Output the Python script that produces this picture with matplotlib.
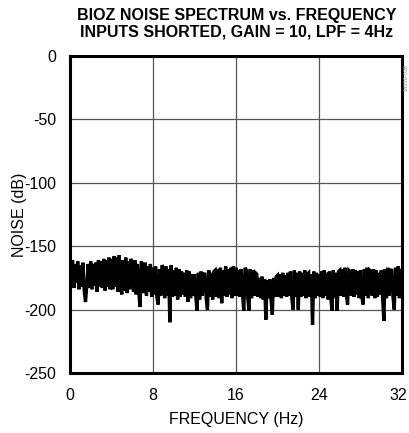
import numpy as np
import matplotlib.pyplot as plt
import matplotlib.transforms as mtransforms

# ---------------- DATA ----------------
FREQ_STEP = 0.125  # Hz between spectrum bins
noise_db = [
    -163, -180, -161, -183, -164, -179, -162, -184,   # 0 Hz
    -165, -182, -163, -185, -194, -181, -164, -183,   # 1
    -162, -184, -164, -181, -163, -186, -161, -182,   # 2
    -162, -183, -160, -185, -161, -182, -159, -184,   # 3
    -160, -184, -158, -182, -159, -186, -157, -183,   # 4
    -188, -161, -185, -159, -187, -162, -184, -160,   # 5
    -163, -186, -161, -188, -164, -185, -198, -162,   # 6
    -165, -187, -163, -189, -166, -186, -164, -190,   # 7
    -167, -188, -166, -190, -196, -168, -189, -165,   # 8
    -167, -191, -166, -189, -168, -210, -165, -190,   # 9
    -169, -189, -167, -192, -168, -190, -170, -188,   # 10
    -171, -190, -169, -194, -170, -191, -172, -189,   # 11
    -172, -190, -201, -171, -192, -170, -189, -173,   # 12
    -171, -191, -200, -169, -190, -171, -192, -170,   # 13
    -169, -190, -168, -191, -167, -195, -169, -189,   # 14
    -166, -190, -168, -188, -167, -191, -166, -189,   # 15
    -167, -189, -169, -190, -168, -188, -201, -167,   # 16
    -169, -190, -201, -168, -191, -169, -189, -171,   # 17
    -172, -190, -175, -191, -174, -192, -176, -208,   # 18
    -177, -191, -176, -192, -204, -175, -190, -174,   # 19
    -173, -190, -172, -191, -171, -189, -173, -190,   # 20
    -171, -189, -170, -191, -200, -169, -190, -171,   # 21
    -200, -170, -190, -171, -189, -169, -191, -172,   # 22
    -171, -190, -172, -212, -170, -191, -171, -189,   # 23
    -172, -190, -170, -191, -169, -189, -171, -192,   # 24
    -170, -190, -201, -169, -191, -171, -201, -170,   # 25
    -169, -189, -168, -190, -167, -188, -196, -169,   # 26
    -170, -189, -168, -190, -169, -188, -170, -191,   # 27
    -169, -190, -196, -168, -189, -167, -191, -169,   # 28
    -170, -189, -168, -191, -169, -190, -171, -188,   # 29
    -169, -190, -209, -168, -191, -167, -189, -170,   # 30
    -168, -190, -200, -167, -189, -166, -191, -168,   # 31
    -170,                                             # 32
]
x_ticks = [0, 8, 16, 24, 32]
y_ticks = [0, -50, -100, -150, -200, -250]
# ---------------------------------------------------------------

freq = np.arange(len(noise_db)) * FREQ_STEP

plt.rcParams['font.family'] = ['Liberation Sans', 'DejaVu Sans']

fig = plt.figure(figsize=(4.09, 4.33), dpi=100)
ax = fig.add_axes([0.171, 0.1386, 0.812, 0.7321])

ax.plot(freq, noise_db, color='black', lw=2.4, solid_joinstyle='miter')

ax.set_xlim(0, 32)
ax.set_ylim(-250, 0)
ax.set_xticks(x_ticks)
ax.set_yticks(y_ticks)
ax.set_xticklabels([str(t) for t in x_ticks])
ax.set_yticklabels([str(t) for t in y_ticks])
ax.tick_params(length=0, labelsize=11.5)
ax.tick_params(axis='x', pad=11)
ax.tick_params(axis='y', pad=10)
ax.grid(True, color='#555555', lw=0.9)
ax.set_axisbelow(True)
for s in ax.spines.values():
    s.set_linewidth(2.2)

# the last x label sits hard against the right edge in the original
last = ax.get_xticklabels()[-1]
last.set_transform(last.get_transform() +
                   mtransforms.ScaledTranslation(-3 / 72, 0, fig.dpi_scale_trans))

ax.set_xlabel('FREQUENCY (Hz)', fontsize=11.5, labelpad=6)
ax.set_ylabel('NOISE (dB)', fontsize=11.5)
ax.yaxis.set_label_coords(-0.13, 0.5)
fig.text(0.579, 0.945, 'BIOZ NOISE SPECTRUM vs. FREQUENCY\nINPUTS SHORTED, GAIN = 10, LPF = 4Hz',
         ha='center', va='center', fontsize=11.5, fontweight='bold', linespacing=1.15)
fig.text(0.993, 0.82, '14330-038', rotation=90, fontsize=4, color='#888888',
         ha='center', va='center')

plt.savefig('out.png', dpi=100)
plt.close()
